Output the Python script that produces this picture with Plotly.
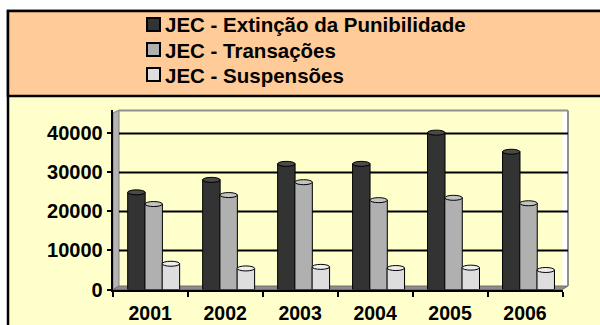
import plotly.graph_objects as go

# Dados por ano
anos = ["2001", "2002", "2003", "2004", "2005", "2006"]
extincao = [24900, 28100, 32200, 32200, 40200, 35300]
transacoes = [21900, 24200, 27500, 22900, 23500, 22100]
suspensoes = [6600, 5400, 5800, 5500, 5600, 5000]

nomes = ["JEC - Extinção da Punibilidade", "JEC - Transações", "JEC - Suspensões"]
cores = ["#333333", "#B0B0B0", "#DEDEDE"]
cores_topo = ["#4A4A4A", "#C4C4C4", "#EEEEEE"]
y_ticks = [0, 10000, 20000, 30000, 40000]

W, H = 600, 325
FONT = "Liberation Sans"


def px(x):
    return x / W


def py(y):
    return 1 - y / H


# plot area in pixels
X0, X1 = 112.7, 562.5
Y0, Y1 = 110, 289.5
Y_MAX = 46000

BAR_W = 0.233
offsets = [-0.30, -0.07, 0.16]

fig = go.Figure()
series = [extincao, transacoes, suspensoes]
for nome, vals, cor, off in zip(nomes, series, cores, offsets):
    fig.add_trace(go.Bar(
        name=nome, x=anos, y=vals, width=BAR_W, offset=off,
        marker=dict(color=cor, line=dict(color="black", width=1)),
        showlegend=False,
    ))


def dx(x):
    return (x - X0) / (X1 - X0)


def dy(y):
    return (Y1 - y) / (Y1 - Y0)


shapes = [
    # outer frame: lower panel
    dict(type="rect", xref="paper", yref="paper", x0=px(8), x1=1.02, y0=-0.1, y1=py(11),
         fillcolor="#FFFFCC", line=dict(color="black", width=2.5), layer="below"),
    # legend panel
    dict(type="rect", xref="paper", yref="paper", x0=px(8), x1=1.02, y0=py(96), y1=py(11),
         fillcolor="#FFCC99", line=dict(color="black", width=2.5), layer="below"),
    # back wall extension to the right
    dict(type="rect", xref="x domain", yref="y domain", x0=1, x1=dx(568), y0=dy(287), y1=dy(110),
         fillcolor="white", line=dict(width=0), layer="below"),
    # left wall
    dict(type="path", xref="x domain", yref="y domain",
         path=f"M{dx(113)},{dy(289.5)} L{dx(113)},{dy(113)} L{dx(119)},{dy(110)} L{dx(119)},{dy(287)} Z",
         fillcolor="#B4B4B4", line=dict(color="#808080", width=1), layer="below"),
    # floor
    dict(type="path", xref="x domain", yref="y domain",
         path=f"M{dx(113)},{dy(289.5)} L{dx(119)},{dy(286)} L{dx(568)},{dy(286)} L{dx(562.5)},{dy(289.5)} Z",
         fillcolor="#8C8C8C", line=dict(color="#707070", width=1), layer="below"),
    # wall edges
    dict(type="line", xref="x domain", yref="y domain", x0=dx(119), x1=dx(568), y0=dy(110.5), y1=dy(110.5),
         line=dict(color="#909090", width=2), layer="below"),
    dict(type="line", xref="x domain", yref="y domain", x0=dx(568), x1=dx(568), y0=dy(286), y1=dy(110.5),
         line=dict(color="#909090", width=2), layer="below"),
]

# gridlines on the back wall
for t in y_ticks[1:]:
    shapes.append(dict(type="line", xref="x domain", yref="y", x0=dx(119), x1=dx(568), y0=t, y1=t,
                       line=dict(color="black", width=2), layer="below"))

# cylinder tops
half = 640
for vals, cor, off in zip(series, cores_topo, offsets):
    for i, v in enumerate(vals):
        shapes.append(dict(type="circle", xref="x", yref="y",
                           x0=i + off, x1=i + off + BAR_W, y0=v - half, y1=v + half,
                           fillcolor=cor, line=dict(color="black", width=1), layer="above"))

# legend: swatches and series names
annotations = []
rows = [24.5, 49.5, 74.5]
for nome, cor, yr in zip(nomes, cores, rows):
    shapes.append(dict(type="rect", xref="paper", yref="paper",
                       x0=px(147), x1=px(160), y0=py(yr + 6.5), y1=py(yr - 6.5),
                       fillcolor=cor, line=dict(color="black", width=2)))
    annotations.append(dict(text=nome, xref="paper", yref="paper", x=px(163), y=py(yr + 0.5),
                            xanchor="left", yanchor="middle", showarrow=False,
                            font=dict(family=FONT, size=20.5, color="black", weight="bold")))

fig.update_layout(
    width=W, height=H,
    margin=dict(l=0, r=0, t=0, b=0),
    paper_bgcolor="white",
    plot_bgcolor="white",
    barmode="overlay",
    font=dict(family=FONT, size=20, color="black", weight="bold"),
    shapes=shapes,
    annotations=annotations,
    showlegend=False,
    xaxis=dict(
        domain=[px(X0), px(X1)], type="category", automargin=False,
        showline=True, linecolor="black", linewidth=2,
        ticks="outside", ticklen=5, tickwidth=2, tickcolor="black",
        tickson="boundaries", showgrid=False, ticklabelstandoff=5,
        tickfont=dict(family=FONT, size=19.5, color="black", weight="bold"),
        range=[-0.5, 5.5],
    ),
    yaxis=dict(
        domain=[py(Y1), py(Y0)], range=[0, Y_MAX], automargin=False,
        tickvals=y_ticks, ticktext=[str(t) for t in y_ticks],
        showline=True, linecolor="black", linewidth=2,
        ticks="outside", ticklen=4, tickwidth=2, tickcolor="black",
        showgrid=False, zeroline=False,
        tickfont=dict(family=FONT, size=20, color="black", weight="bold"),
    ),
)

fig.write_html("out.html")
